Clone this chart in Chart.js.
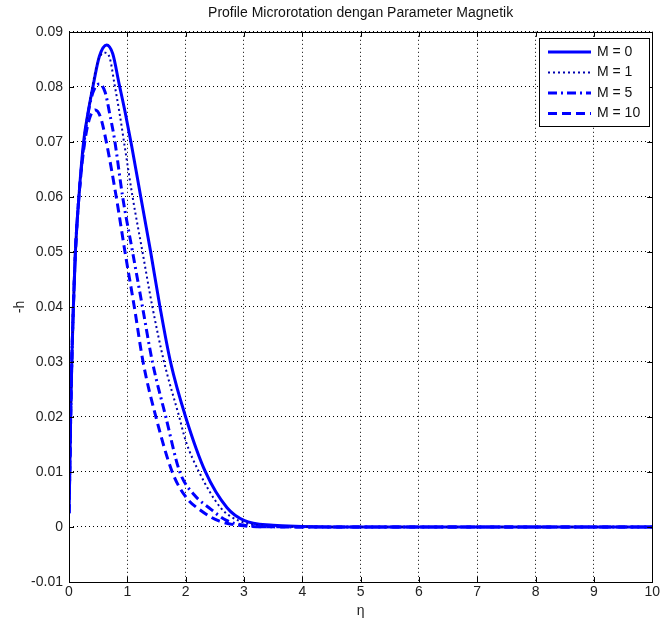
<!DOCTYPE html>
<html>
<head>
<meta charset="utf-8">
<title>Profile Microrotation</title>
<script src="https://cdn.jsdelivr.net/npm/chart.js@4.4.1/dist/chart.umd.min.js"></script>
<style>
  html, body { margin: 0; padding: 0; background: #fff; }
  #wrap { width: 662px; height: 623px; }
</style>
</head>
<body>
<div id="wrap"><canvas id="myChart" width="662" height="623"></canvas></div>
<script>
// eta values and -h values for each magnetic parameter M
const etaM0 = [0, 0.015, 0.03, 0.05, 0.075, 0.11, 0.17, 0.25, 0.33, 0.41, 0.52, 0.645, 0.75, 0.86, 0.97, 1.07, 1.23, 1.40, 1.56, 1.74, 2.0, 2.34, 2.71, 3.0, 3.5, 4.0, 5, 6, 7, 8, 9, 10];
const hM0   = [0.0025, 0.011, 0.021, 0.031, 0.04, 0.05, 0.06, 0.07, 0.0755, 0.08, 0.0855, 0.0876, 0.086, 0.0805, 0.075, 0.0695, 0.06, 0.05, 0.04, 0.03, 0.02, 0.01, 0.0035, 0.0012, 0.0003, 0.0001, 0, 0, 0, 0, 0, 0];

const etaM1 = [0, 0.015, 0.03, 0.05, 0.075, 0.11, 0.17, 0.25, 0.33, 0.40, 0.50, 0.62, 0.70, 0.78, 0.87, 0.95, 1.09, 1.26, 1.43, 1.63, 1.89, 2.0, 2.23, 2.6, 2.9, 3.4, 4, 5, 10];
const hM1   = [0.0025, 0.011, 0.021, 0.031, 0.04, 0.05, 0.06, 0.07, 0.0755, 0.08, 0.0848, 0.0862, 0.0852, 0.0805, 0.075, 0.0695, 0.06, 0.05, 0.04, 0.03, 0.02, 0.0157, 0.01, 0.0035, 0.0012, 0.0002, 0.00005, 0, 0];

const etaM5 = [0, 0.015, 0.03, 0.05, 0.075, 0.11, 0.17, 0.26, 0.36, 0.44, 0.52, 0.62, 0.70, 0.78, 0.92, 1.09, 1.26, 1.43, 1.66, 1.90, 2.15, 2.40, 2.7, 3.1, 3.6, 5, 10];
const hM5   = [0.0025, 0.011, 0.021, 0.031, 0.04, 0.05, 0.06, 0.07, 0.077, 0.0797, 0.0805, 0.079, 0.075, 0.0705, 0.06, 0.05, 0.04, 0.03, 0.02, 0.01, 0.0058, 0.0035, 0.0012, 0.0002, 0.00003, 0, 0];

const etaM10 = [0, 0.015, 0.03, 0.05, 0.075, 0.11, 0.17, 0.27, 0.36, 0.45, 0.54, 0.63, 0.81, 0.96, 1.12, 1.27, 1.49, 1.77, 2.0, 2.26, 2.57, 3.0, 3.5, 5, 10];
const hM10   = [0.0025, 0.011, 0.021, 0.031, 0.04, 0.05, 0.06, 0.07, 0.0745, 0.0758, 0.0745, 0.0705, 0.06, 0.05, 0.04, 0.03, 0.02, 0.01, 0.0055, 0.003, 0.0011, 0.0002, 0.00002, 0, 0];

const seriesLabels = ['M = 0', 'M = 1', 'M = 5', 'M = 10'];
const xTicks = [0, 1, 2, 3, 4, 5, 6, 7, 8, 9, 10];
const yTicks = [-0.01, 0, 0.01, 0.02, 0.03, 0.04, 0.05, 0.06, 0.07, 0.08, 0.09];

const FONT = '"Liberation Sans", Arial, sans-serif';
const BLUE = '#0000ff';

function pts(xs, ys) {
    return xs.map((x, i) => ({ x: x, y: ys[i] }));
}

// box round the axes, inward tick marks and the legend, drawn like the matlab figure
const frameAndLegend = {
    id: 'frameAndLegend',
    afterDatasetsDraw(chart) {
        const ctx = chart.ctx;
        const a = chart.chartArea;
        const sx = chart.scales.x, sy = chart.scales.y;
        ctx.save();
        ctx.strokeStyle = '#000';
        ctx.lineWidth = 1;
        ctx.setLineDash([]);
        ctx.strokeRect(Math.round(a.left) + 0.5, Math.round(a.top) + 0.5,
            Math.round(a.right - a.left), Math.round(a.bottom - a.top));

        const tl = 5;
        ctx.beginPath();
        xTicks.forEach(v => {
            const px = Math.round(sx.getPixelForValue(v)) + 0.5;
            ctx.moveTo(px, a.bottom); ctx.lineTo(px, a.bottom - tl);
            ctx.moveTo(px, a.top); ctx.lineTo(px, a.top + tl);
        });
        yTicks.forEach(v => {
            const py = Math.round(sy.getPixelForValue(v)) + 0.5;
            ctx.moveTo(a.left, py); ctx.lineTo(a.left + tl, py);
            ctx.moveTo(a.right, py); ctx.lineTo(a.right - tl, py);
        });
        ctx.stroke();

        // legend
        const lx = 539, ly = 38, lw = 110, lh = 88;
        ctx.fillStyle = '#fff';
        ctx.fillRect(lx, ly, lw, lh);
        ctx.strokeRect(lx + 0.5, ly + 0.5, lw, lh);
        ctx.font = '14px ' + FONT;
        ctx.textBaseline = 'middle';
        ctx.textAlign = 'left';
        chart.data.datasets.forEach((ds, i) => {
            const y = ly + 14 + i * 20.5;
            ctx.beginPath();
            ctx.strokeStyle = ds.borderColor;
            ctx.lineWidth = ds.borderWidth;
            ctx.setLineDash(ds.borderDash || []);
            ctx.moveTo(lx + 9, y);
            ctx.lineTo(lx + 52, y);
            ctx.stroke();
            ctx.setLineDash([]);
            ctx.fillStyle = '#111';
            ctx.fillText(ds.label, lx + 58, y);
        });
        ctx.restore();
    }
};

const ctx = document.getElementById('myChart').getContext('2d');
const myChart = new Chart(ctx, {
    type: 'line',
    data: {
        datasets: [
            { label: seriesLabels[0], data: pts(etaM0, hM0), borderColor: BLUE, borderWidth: 3, borderDash: [], order: 3 },
            { label: seriesLabels[1], data: pts(etaM1, hM1), borderColor: '#0000b0', borderWidth: 2, borderDash: [2, 3], order: 2 },
            { label: seriesLabels[2], data: pts(etaM5, hM5), borderColor: BLUE, borderWidth: 3, borderDash: [9, 4, 2, 4], order: 1 },
            { label: seriesLabels[3], data: pts(etaM10, hM10), borderColor: BLUE, borderWidth: 3, borderDash: [9, 5], order: 0 }
        ]
    },
    options: {
        responsive: false,
        animation: false,
        devicePixelRatio: 1,
        layout: { padding: { left: 0, right: 6, top: 0, bottom: 0 } },
        elements: {
            point: { radius: 0 },
            line: { cubicInterpolationMode: 'monotone', fill: false }
        },
        plugins: {
            legend: { display: false },
            tooltip: { enabled: false },
            title: {
                display: true,
                text: 'Profile Microrotation dengan Parameter Magnetik',
                fullSize: false,
                color: '#111',
                font: { family: FONT, size: 14, weight: 'normal' },
                padding: { top: 5, bottom: 10 }
            }
        },
        scales: {
            x: {
                type: 'linear',
                min: 0,
                max: 10,
                afterFit: s => { s.height = 41; },
                afterBuildTicks: s => { s.ticks = xTicks.map(v => ({ value: v })); },
                ticks: {
                    color: '#222',
                    padding: 2,
                    maxRotation: 0,
                    font: { family: FONT, size: 14 },
                    callback: v => String(v)
                },
                grid: { color: '#000', lineWidth: 1, drawTicks: false },
                border: { display: false, dash: [1, 3] },
                title: {
                    display: true,
                    text: 'η',
                    color: '#222',
                    font: { family: FONT, size: 14 },
                    padding: { top: 0, bottom: 3 }
                }
            },
            y: {
                type: 'linear',
                min: -0.01,
                max: 0.09,
                afterFit: s => { s.width = 69; },
                afterBuildTicks: s => { s.ticks = yTicks.map(v => ({ value: v })); },
                ticks: {
                    color: '#222',
                    padding: 6,
                    font: { family: FONT, size: 14 },
                    callback: v => String(Math.round(v * 100) / 100)
                },
                grid: { color: '#000', lineWidth: 1, drawTicks: false },
                border: { display: false, dash: [1, 3] },
                title: {
                    display: true,
                    text: '-h',
                    color: '#222',
                    font: { family: FONT, size: 14 },
                    padding: { top: 12, bottom: 0 }
                }
            }
        }
    },
    plugins: [frameAndLegend]
});
</script>
</body>
</html>
